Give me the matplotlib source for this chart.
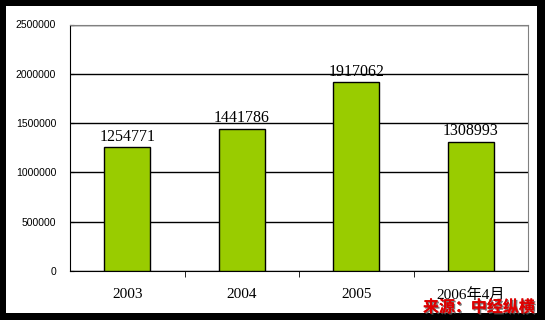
import matplotlib.pyplot as plt
import matplotlib.patheffects as pe
from matplotlib.patches import Rectangle

years = ['2003', '2004', '2005', '2006年4月']
values = [1254771, 1441786, 1917062, 1308993]
yticks = [0, 500000, 1000000, 1500000, 2000000, 2500000]

W, H = 545, 320
fig = plt.figure(figsize=(W / 100, H / 100), dpi=100)
fig.patch.set_facecolor('white')

ax = fig.add_axes([70 / W, (H - 271) / H, (528 - 70) / W, (271 - 24.5) / H])
x = range(len(years))
ax.bar(x, values, width=0.4, color='#99cc00', edgecolor='black', linewidth=1, zorder=3)

for xi, v in zip(x, values):
    ax.text(xi, v + 25000, str(v), ha='center', va='bottom', fontsize=11.5,
            family=['Liberation Serif'], color='black', zorder=4)

ax.set_xlim(-0.5, 3.5)
ax.set_ylim(0, 2500000)
ax.set_yticks(yticks)
ax.set_yticklabels([str(t) for t in yticks], fontsize=7.5, family='Liberation Sans')
ax.set_xticks(list(x))
ax.set_xticklabels(years, fontsize=11, family=['Liberation Serif', 'Noto Sans CJK SC'])
ax.set_xticks([0.5, 1.5, 2.5], minor=True)
ax.tick_params(axis='x', which='major', length=0, pad=12)
ax.tick_params(axis='x', which='minor', length=4, direction='out', color='black')
ax.tick_params(axis='y', length=3, direction='in', pad=10)

ax.set_axisbelow(True)
ax.yaxis.grid(True, color='black', linewidth=1)
for s in ['left', 'bottom']:
    ax.spines[s].set_color('black')
for s in ['top', 'right']:
    ax.spines[s].set_color('#808080')

# black frame around the picture
for (x0, y0, w, h) in [(0, 0, 6, H), (0, H - 6, W, 6), (537, 0, 8, H), (0, 0, W, 7)]:
    fig.patches.append(Rectangle((x0 / W, y0 / H), w / W, h / H, transform=fig.transFigure,
                                 facecolor='black', edgecolor='none', zorder=10))

fig.text(535 / W, 13 / H, '来源：中经纵横', ha='right', va='center', fontsize=11.5,
         fontweight='bold', color='#dd0000', family='Noto Sans CJK SC',
         path_effects=[pe.withSimplePatchShadow(offset=(1, -1), shadow_rgbFace='#555555', alpha=0.8),
                       pe.Normal()], zorder=11)

fig.savefig('out.png', dpi=100)
